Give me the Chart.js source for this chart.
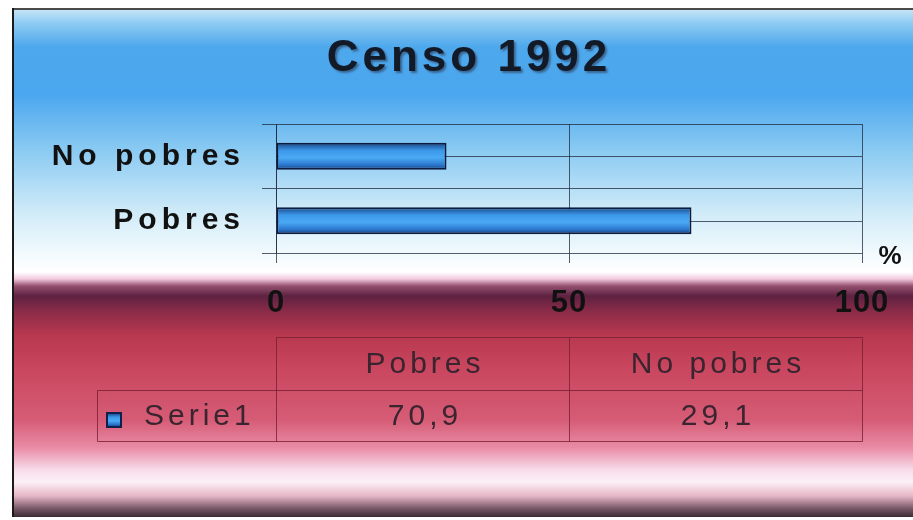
<!DOCTYPE html>
<html lang="es">
<head>
<meta charset="UTF-8">
<title>Censo 1992</title>
<style>
  body { margin: 0; background: #fff; }
  #marco { width: 913px; height: 520px; }
</style>
</head>
<body>
<div id="marco"><canvas id="censo" width="913" height="520"></canvas></div>

<script src="https://cdn.jsdelivr.net/npm/chart.js"></script>
<script>
// datos del grafico
const titulo = 'Censo 1992';
const categorias = ['Pobres', 'No pobres'];
const valores = [70.9, 29.1];
const ticksX = [0, 50, 100];
const nombreSerie = 'Serie1';
const unidad = '%';

const fuente = "'Liberation Sans', Arial, sans-serif";
const colorRejilla = 'rgba(30, 40, 60, 0.75)';
const colorTabla = 'rgba(120, 30, 50, 0.8)';

function degradadoBarra(ctx, y, h) {
    const g = ctx.createLinearGradient(0, y - h, 0, y + h);
    g.addColorStop(0, '#16407e');
    g.addColorStop(0.3, '#3c98ea');
    g.addColorStop(0.55, '#4aaaf4');
    g.addColorStop(0.8, '#2c7ad0');
    g.addColorStop(1, '#143a78');
    return g;
}

// espaciado de letras distinto para cada eje (el canvas lo permite, Chart.js no)
function espaciado(px) {
    return function (scale) {
        if (scale._conEspaciado) return;
        const original = scale.drawLabels;
        scale.drawLabels = function (area) {
            const anterior = this.ctx.letterSpacing;
            this.ctx.letterSpacing = px;
            original.call(this, area);
            this.ctx.letterSpacing = anterior;
        };
        scale._conEspaciado = true;
    };
}

// fondo con los dos degradados (azul arriba, rojo abajo)
const fondo = {
    id: 'fondo',
    beforeDraw(chart) {
        const ctx = chart.ctx;
        const w = chart.width, h = chart.height;
        ctx.save();
        ctx.fillStyle = '#ffffff';
        ctx.fillRect(0, 0, w, h);

        const azul = ctx.createLinearGradient(0, 10, 0, 272);
        azul.addColorStop(0, '#c4e3f7');
        azul.addColorStop(0.05, '#8ecbf3');
        azul.addColorStop(0.14, '#4ea8ec');
        azul.addColorStop(0.32, '#4aa6ee');
        azul.addColorStop(0.52, '#86c8f2');
        azul.addColorStop(0.78, '#d2ecf8');
        azul.addColorStop(0.93, '#f2fafd');
        azul.addColorStop(1, '#ffffff');
        ctx.fillStyle = azul;
        ctx.fillRect(14, 10, w - 14, 262);

        const y0 = 272, y1 = 517;
        const rojo = ctx.createLinearGradient(0, y0, 0, y1);
        const p = v => (v - y0) / (y1 - y0);
        rojo.addColorStop(0, '#ffffff');
        rojo.addColorStop(p(279), '#f2cade');
        rojo.addColorStop(p(286), '#94506e');
        rojo.addColorStop(p(296), '#5e2242');
        rojo.addColorStop(p(312), '#8c2c48');
        rojo.addColorStop(p(335), '#b8384f');
        rojo.addColorStop(p(370), '#c9475f');
        rojo.addColorStop(p(420), '#d65c76');
        rojo.addColorStop(p(448), '#e98ca6');
        rojo.addColorStop(p(470), '#f8dcea');
        rojo.addColorStop(p(482), '#fcf0f6');
        rojo.addColorStop(p(496), '#e6b6c6');
        rojo.addColorStop(p(508), '#7c5a6a');
        rojo.addColorStop(1, '#3c2c34');
        ctx.fillStyle = rojo;
        ctx.fillRect(14, y0, w - 14, y1 - y0);

        // marco
        ctx.fillStyle = '#4a4a4a';
        ctx.fillRect(12, 8, w - 12, 2);
        ctx.fillStyle = '#1a1a1a';
        ctx.fillRect(12, 8, 2, y1 - 8);
        ctx.restore();
    },
    beforeDatasetsDraw(chart) {
        // lineas por el centro de cada categoria
        const ctx = chart.ctx;
        const area = chart.chartArea;
        const y = chart.scales.y;
        ctx.save();
        ctx.strokeStyle = colorRejilla;
        ctx.lineWidth = 1;
        for (let i = 0; i < categorias.length; i++) {
            const py = Math.round(y.getPixelForValue(i)) + 0.5;
            ctx.beginPath();
            ctx.moveTo(area.left, py);
            ctx.lineTo(area.right, py);
            ctx.stroke();
        }
        ctx.restore();
    }
};

// titulo, unidad y tabla de datos
const extras = {
    id: 'extras',
    afterDraw(chart) {
        const ctx = chart.ctx;
        const x = chart.scales.x;
        ctx.save();

        // titulo con sombra
        ctx.letterSpacing = '4px';
        ctx.font = 'bold 44px ' + fuente;
        ctx.textAlign = 'center';
        ctx.textBaseline = 'middle';
        ctx.shadowColor = 'rgba(40, 40, 60, 0.5)';
        ctx.shadowOffsetX = 2;
        ctx.shadowOffsetY = 2;
        ctx.shadowBlur = 2;
        ctx.fillStyle = '#121a28';
        ctx.fillText(titulo, 469, 59);
        ctx.shadowColor = 'transparent';

        // unidad
        ctx.letterSpacing = '0px';
        ctx.font = 'bold 26px ' + fuente;
        ctx.fillStyle = '#111';
        ctx.fillText(unidad, 890, 257);

        // tabla
        const xs = ticksX.map(v => Math.round(x.getPixelForValue(v)) + 0.5);
        const izq = 97.5;
        const fila0 = 337.5, fila1 = 390.5, fila2 = 441.5;
        ctx.strokeStyle = colorTabla;
        ctx.lineWidth = 1;
        ctx.beginPath();
        ctx.moveTo(xs[0], fila0); ctx.lineTo(xs[2], fila0);
        ctx.moveTo(izq, fila1); ctx.lineTo(xs[2], fila1);
        ctx.moveTo(izq, fila2); ctx.lineTo(xs[2], fila2);
        ctx.moveTo(izq, fila1); ctx.lineTo(izq, fila2);
        for (const px of xs) {
            ctx.moveTo(px, fila0); ctx.lineTo(px, fila2);
        }
        ctx.stroke();

        ctx.letterSpacing = '4px';
        ctx.font = '30px ' + fuente;
        ctx.fillStyle = '#3a2430';
        ctx.textAlign = 'center';
        for (let i = 0; i < categorias.length; i++) {
            const cx = (xs[i] + xs[i + 1]) / 2 + 2;
            ctx.fillText(categorias[i], cx, (fila0 + fila1) / 2 + 1);
            ctx.fillText(valores[i].toFixed(1).replace('.', ','), cx, (fila1 + fila2) / 2 + 1);
        }
        ctx.textAlign = 'left';
        ctx.fillText(nombreSerie, 144, (fila1 + fila2) / 2 + 1);

        // muestra de la serie
        ctx.fillStyle = degradadoBarra(ctx, 420, 7);
        ctx.fillRect(107, 413, 14, 14);
        ctx.strokeStyle = '#10204a';
        ctx.lineWidth = 2;
        ctx.strokeRect(107, 413, 14, 14);

        ctx.restore();
    }
};

const ctx = document.getElementById('censo').getContext('2d');

new Chart(ctx, {
    type: 'bar',
    data: {
        labels: categorias,
        datasets: [{
            label: nombreSerie,
            data: valores,
            backgroundColor: function (context) {
                const chart = context.chart;
                if (!chart.chartArea) return '#3a94e6';
                const py = chart.scales.y.getPixelForValue(context.dataIndex);
                return degradadoBarra(chart.ctx, py, 14);
            },
            borderColor: '#0c1c40',
            borderWidth: 2,
            borderSkipped: false,
            barPercentage: 0.42,
            categoryPercentage: 1
        }]
    },
    options: {
        indexAxis: 'y',
        responsive: false,
        animation: false,
        devicePixelRatio: 1,
        layout: {
            padding: { left: 0, top: 124, right: 51, bottom: 207 }
        },
        plugins: {
            legend: { display: false },
            title: { display: false },
            tooltip: { enabled: false }
        },
        scales: {
            x: {
                min: 0,
                max: 100,
                afterFit: function (scale) {
                    scale.height = 60;
                    espaciado('1px')(scale);
                },
                afterBuildTicks: function (scale) {
                    scale.ticks = ticksX.map(v => ({ value: v }));
                },
                grid: { color: colorRejilla, tickLength: 10, lineWidth: 1 },
                border: { display: false },
                ticks: {
                    color: '#111',
                    padding: 22,
                    maxRotation: 0,
                    font: { family: fuente, size: 31, weight: 'bold' }
                }
            },
            y: {
                reverse: true,
                afterFit: function (scale) {
                    scale.width = 276;
                    espaciado('5px')(scale);
                },
                grid: { color: colorRejilla, tickLength: 14, lineWidth: 1, offset: true },
                border: { color: colorRejilla },
                ticks: {
                    color: '#111',
                    padding: 17,
                    font: { family: fuente, size: 30, weight: 'bold' }
                }
            }
        }
    },
    plugins: [fondo, extras]
});
</script>
</body>
</html>
